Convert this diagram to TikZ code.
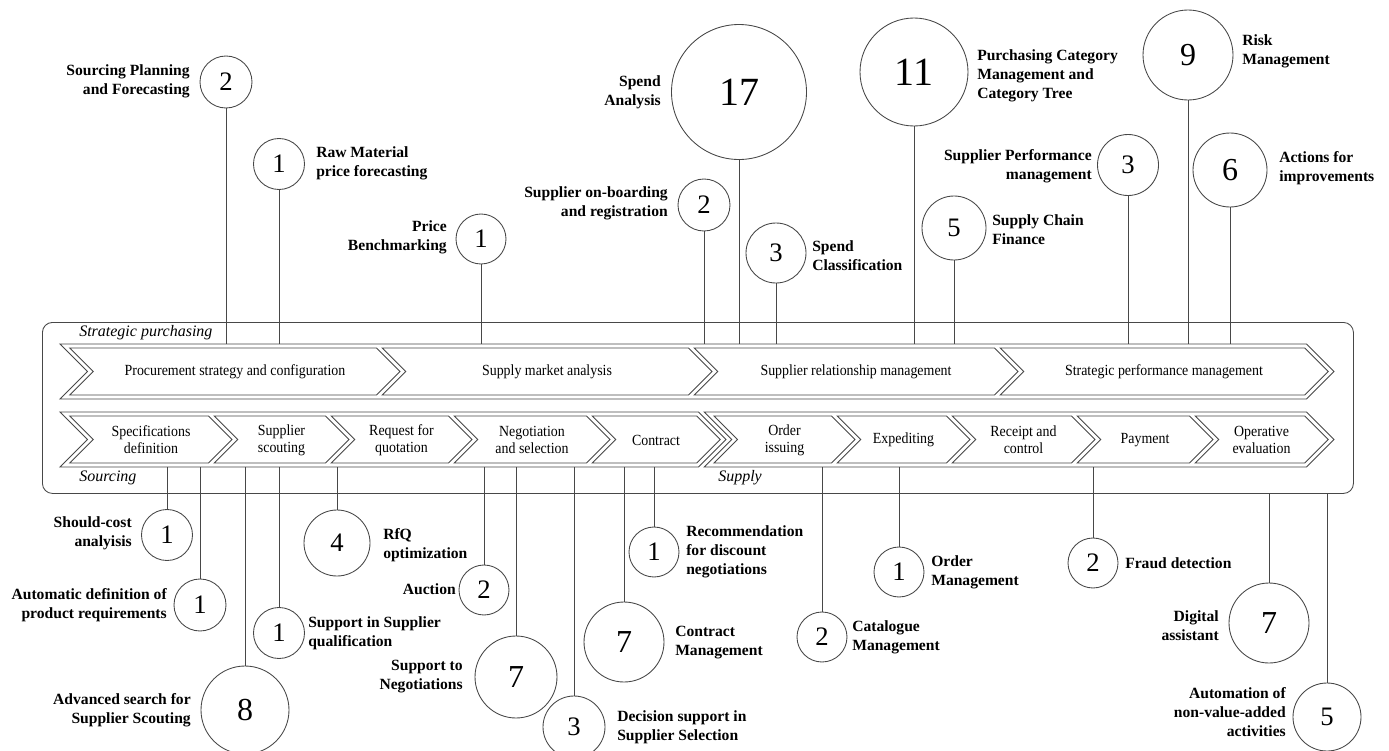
\documentclass[tikz,border=0pt]{standalone}
\usepackage{fontspec}
\setmainfont{Liberation Serif}
\newfontfamily\stepfont[FakeStretch=0.9]{Liberation Serif}
% chevron outline: #1 left corner x, #2 tip x, #3 top y, #4 bottom y
\newcommand{\chevron}[4]{%
  \pgfmathsetmacro{\chvh}{(#4-#3)/2}%
  \draw[chevline] (#1,#3) -- ({#2-\chvh},#3) -- (#2,{#3+\chvh}) -- ({#2-\chvh},#4)
    -- (#1,#4) -- ({#1+\chvh},{#3+\chvh}) -- cycle;}
\begin{document}
\begin{tikzpicture}[x=0.75pt,y=-0.75pt,
  ln/.style={draw=black!72, line width=0.65pt},
  chevline/.style={ln, line join=miter},
  bubble/.style={ln, circle, inner sep=0pt, minimum size=#1*1.5pt},
  numS/.style={font=\fontsize{20}{20}\selectfont},
  numM/.style={font=\fontsize{24}{24}\selectfont},
  numL/.style={font=\fontsize{30}{30}\selectfont},
  lab/.style={font=\fontsize{11.7}{14.25}\selectfont\bfseries, inner sep=0pt},
  labL/.style={lab, anchor=east, align=right},
  labR/.style={lab, anchor=west, align=left},
  steptext/.style={font=\fontsize{11.6}{12.6}\stepfont, align=center, inner sep=0pt},
  phase/.style={font=\fontsize{12}{12}\selectfont\itshape, inner sep=0pt, anchor=west}
]
\useasboundingbox (0,0) rectangle (1389,750);

% frame around both process rows
\node[ln, rounded corners=7.5pt, minimum width=983.25pt, minimum height=128.25pt,
      inner sep=0pt, anchor=north west] (frame) at (42,322) {};
\node[phase] (lstrat) at (79,333) {Strategic purchasing};
\node[phase] (lsourcing) at (79,478) {Sourcing};
\node[phase] (lsupply) at (718,478) {Supply};

% strategic row
\chevron{60}{1334}{344}{399}
\chevron{69.7}{400}{348}{395}
\chevron{382.2}{712}{348}{395}
\chevron{694.2}{1018}{348}{395}
\chevron{1000.2}{1328.3}{348}{395}
\coordinate (stratTop) at (0,344);
\node[steptext] (s1) at (235,372) {Procurement strategy and configuration};
\node[steptext] (s2) at (547,372) {Supply market analysis};
\node[steptext] (s3) at (856,372) {Supplier relationship management};
\node[steptext] (s4) at (1164,372) {Strategic performance management};

% operative row: sourcing and supply
\chevron{60}{726}{412}{467}
\chevron{704.2}{1334}{412}{467}
\chevron{69.7}{232}{416}{463}
\chevron{214.2}{349}{416}{463}
\chevron{331.2}{472}{416}{463}
\chevron{454.2}{610}{416}{463}
\chevron{592.2}{720.3}{416}{463}
\chevron{713.9}{855}{416}{463}
\chevron{837.2}{970}{416}{463}
\chevron{952.2}{1095}{416}{463}
\chevron{1077.2}{1213}{416}{463}
\chevron{1195.2}{1328.3}{416}{463}
\coordinate (opsBot) at (0,467);
\node[steptext] (o1) at (151,440) {Specifications\\definition};
\node[steptext] (o2) at (281.5,440) {Supplier\\scouting};
\node[steptext] (o3) at (401.5,440) {Request for\\quotation};
\node[steptext] (o4) at (532,440) {Negotiation\\and selection};
\node[steptext] (o5) at (656,440) {Contract};
\node[steptext] (o6) at (784.5,440) {Order\\issuing};
\node[steptext] (o7) at (903.5,440) {Expediting};
\node[steptext] (o8) at (1023.5,440) {Receipt and\\control};
\node[steptext] (o9) at (1145,440) {Payment};
\node[steptext] (o10) at (1261.5,440) {Operative\\evaluation};

% applications above the strategic row
\node[bubble=26, numS] (sp) at (226,82) {2};
\node[labL] (tsp) at (190,81) {Sourcing Planning\\and Forecasting};
\node[bubble=25.5, numS] (rm) at (279,164) {1};
\node[labR] (trm) at (316,163.5) {Raw Material\\price forecasting};
\node[bubble=25, numS] (pb) at (481,239) {1};
\node[labL] (tpb) at (447,237.5) {Price\\Benchmarking};
\node[bubble=67.5, numL] (sa) at (739,92) {17};
\node[labL] (tsa) at (661,92) {Spend\\Analysis};
\node[bubble=26, numS] (so) at (704,205) {2};
\node[labL] (tso) at (668,203.5) {Supplier on-boarding\\and registration};
\node[bubble=30, numS] (sc) at (776,253) {3};
\node[labR] (tsc) at (812,255.5) {Spend\\Classification};
\node[bubble=54, numL] (pc) at (914,72) {11};
\node[labR] (tpc) at (977,76) {Purchasing Category\\Management and\\Category Tree};
\node[bubble=32, numS] (scf) at (954,228) {5};
\node[labR] (tscf) at (992,230) {Supply Chain\\Finance};
\node[bubble=30.5, numS] (spm) at (1128,165) {3};
\node[labL] (tspm) at (1092,166.5) {Supplier Performance\\management};
\node[bubble=45, numM] (rk) at (1188,55) {9};
\node[labR] (trk) at (1242,51.5) {Risk\\Management};
\node[bubble=37, numM] (ai) at (1230,170) {6};
\node[labR] (tai) at (1279,168.5) {Actions for\\improvements};

\foreach \c in {sp,rm,pb,sa,so,sc,pc,scf,spm,rk,ai}
  \draw[ln] (\c.south) -- (\c.south |- stratTop);

% applications below the operative row
\node[bubble=25.5, numS] (sca) at (167,535) {1};
\node[labL] (tsca) at (132,533.5) {Should-cost\\analyisis};
\node[bubble=26, numS] (adp) at (200,605) {1};
\node[labL] (tadp) at (167,605.5) {Automatic definition of\\product requirements};
\node[bubble=44, numM] (ass) at (245,710) {8};
\node[labL] (tass) at (191,710.5) {Advanced search for\\Supplier Scouting};
\node[bubble=25.5, numS] (ssq) at (279,633) {1};
\node[labR] (tssq) at (308,633) {Support in Supplier\\qualification};
\node[bubble=33, numS] (rfq) at (337,543) {4};
\node[labR] (trfq) at (383,545.5) {RfQ\\optimization};
\node[bubble=25, numS] (auc) at (484,590) {2};
\node[labL] (tauc) at (456,589) {Auction};
\node[bubble=41, numM] (stn) at (516,677) {7};
\node[labL] (tstn) at (463,677) {Support to\\Negotiations};
\node[bubble=31, numS] (dss) at (574,727) {3};
\node[labR] (tdss) at (617,727.5) {Decision support in\\Supplier Selection};
\node[bubble=40, numM] (cm) at (624,642) {7};
\node[labR] (tcm) at (675,642.5) {Contract\\Management};
\node[bubble=25, numS] (rdn) at (654,552) {1};
\node[labR] (trdn) at (686,552) {Recommendation\\for discount\\negotiations};
\node[bubble=25, numS] (cat) at (822,637) {2};
\node[labR] (tcat) at (852,637.5) {Catalogue\\Management};
\node[bubble=25, numS] (om) at (899,572) {1};
\node[labR] (tom) at (931,572.5) {Order\\Management};
\node[bubble=25, numS] (fd) at (1093,563) {2};
\node[labR] (tfd) at (1125,563) {Fraud detection};
\node[bubble=40, numM] (da) at (1269,623) {7};
\node[labL] (tda) at (1219,626) {Digital\\assistant};
\node[bubble=34, numS] (aut) at (1327,717) {5};
\node[labL] (taut) at (1286,712.5) {Automation of\\non-value-added\\activities};

\foreach \c in {sca,adp,ass,ssq,rfq,auc,stn,dss,cm,rdn,cat,om,fd}
  \draw[ln] (\c.north) -- (\c.north |- opsBot);
\foreach \c in {da,aut}
  \draw[ln] (\c.north) -- (\c.north |- frame.south);
\end{tikzpicture}
\end{document}
